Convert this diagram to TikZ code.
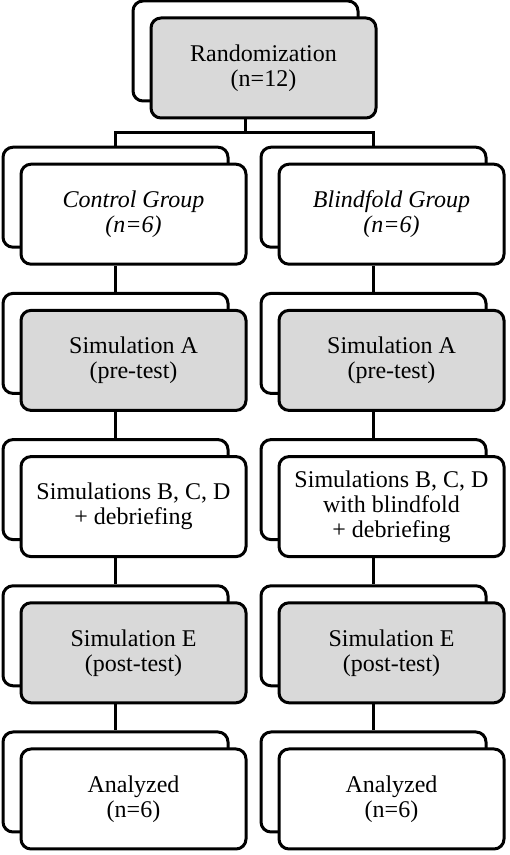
\documentclass[tikz,border=0pt]{standalone}
\usepackage{fontspec}
\setmainfont{Liberation Serif}
\usetikzlibrary{calc}
\definecolor{boxgray}{RGB}{217,217,217}
\begin{document}
\begin{tikzpicture}[x=1pt,y=1pt,
  boxbase/.style={draw=black, line width=3pt, rounded corners=10pt,
    minimum width=225pt, minimum height=100pt, inner sep=0pt,
    align=center, font=\fontsize{24}{25}\selectfont},
  backbox/.style={boxbase, fill=white},
  whitebox/.style={boxbase, fill=white},
  graybox/.style={boxbase, fill=boxgray},
  link/.style={line width=3pt, draw=black}
]
\useasboundingbox (0,0) rectangle (510,855);

% back boxes
\node[backbox] (bT)  at (245.5,804) {};
\node[backbox] (bL1) at (115.5,657.8) {};
\node[backbox] (bR1) at (373.5,657.8) {};
\node[backbox] (bL2) at (115.5,511.6) {};
\node[backbox] (bR2) at (373.5,511.6) {};
\node[backbox] (bL3) at (115.5,365.4) {};
\node[backbox] (bR3) at (373.5,365.4) {};
\node[backbox] (bL4) at (115.5,219.2) {};
\node[backbox] (bR4) at (373.5,219.2) {};
\node[backbox] (bL5) at (115.5,73) {};
\node[backbox] (bR5) at (373.5,73) {};

% front boxes
\node[graybox]  (fT)  at (263.5,787) {Randomization\\(n=12)};
\node[whitebox] (fL1) at (133.5,640.8) {\itshape Control Group\\\itshape (n=6)};
\node[whitebox] (fR1) at (391.5,640.8) {\itshape Blindfold Group\\\itshape (n=6)};
\node[graybox]  (fL2) at (133.5,494.6) {Simulation A\\(pre-test)};
\node[graybox]  (fR2) at (391.5,494.6) {Simulation A\\(pre-test)};
\node[whitebox] (fL3) at (133.5,348.4) {Simulations B, C, D\\+ debriefing};
\node[whitebox] (fR3) at (391.5,348.4) {Simulations B, C, D\\with blindfold\\+ debriefing};
\node[graybox]  (fL4) at (133.5,202.2) {Simulation E\\(post-test)};
\node[graybox]  (fR4) at (391.5,202.2) {Simulation E\\(post-test)};
\node[whitebox] (fL5) at (133.5,56) {Analyzed\\(n=6)};
\node[whitebox] (fR5) at (391.5,56) {Analyzed\\(n=6)};

% connectors
\coordinate (jy) at (0,722);
\draw[link] (bT.south |- fT.south) -- (bT.south |- jy);
\draw[link] (bL1.north) -- (bL1.north |- jy) -- (bR1.north |- jy) -- (bR1.north);
\foreach \c in {L,R}{
  \foreach \i/\j in {1/2,2/3,3/4,4/5}{
    \draw[link] (b\c\j.north |- f\c\i.south) -- (b\c\j.north);
  }
}
\end{tikzpicture}
\end{document}
